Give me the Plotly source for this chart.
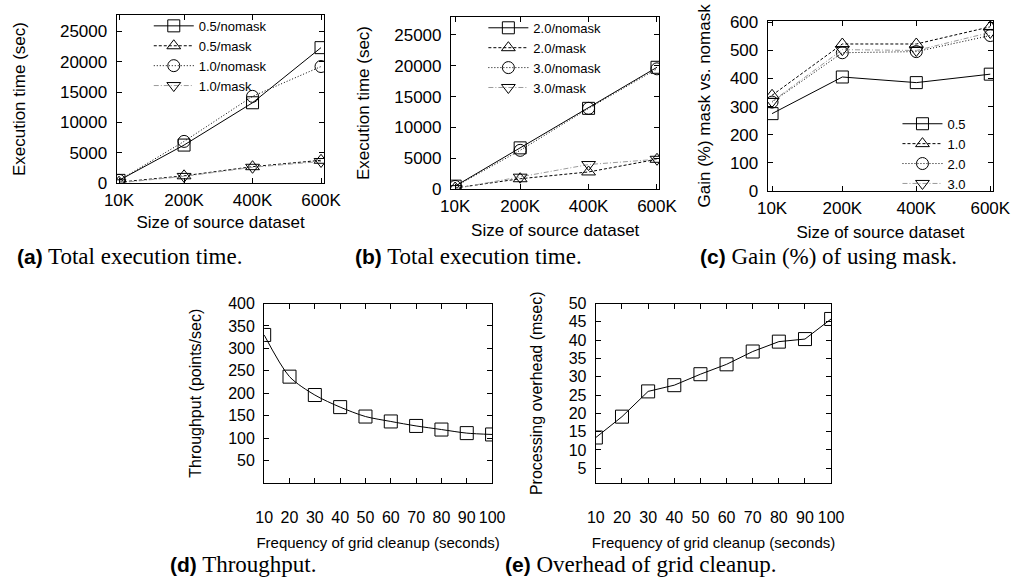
import plotly.graph_objects as go

W, H = 1027, 583

# ---------------- data ----------------
sizes_k = [10, 200, 400, 600]
size_labels = ["10K", "200K", "400K", "600K"]

a_05_nomask = [500, 6300, 13250, 22300]
a_05_mask = [200, 1250, 2750, 3800]
a_10_nomask = [500, 6900, 14300, 19200]
a_10_mask = [100, 1150, 2650, 3600]

b_20_nomask = [500, 6700, 13100, 19750]
b_20_mask = [200, 1700, 2800, 4850]
b_30_nomask = [450, 6300, 13100, 19500]
b_30_mask = [100, 1950, 4000, 4850]

gain_05 = [275, 405, 385, 415]
gain_10 = [340, 522, 522, 583]
gain_20 = [316, 491, 495, 552]
gain_30 = [318, 502, 499, 563]

cleanup_freq = [10, 20, 30, 40, 50, 60, 70, 80, 90, 100]
throughput = [330, 237, 196, 169, 148, 137, 127, 119, 111, 108]
overhead = [13.4, 19.1, 26.0, 27.7, 30.7, 33.4, 36.9, 39.6, 40.3, 45.8]

names_a = ["0.5/nomask", "0.5/mask", "1.0/nomask", "1.0/mask"]
names_b = ["2.0/nomask", "2.0/mask", "3.0/nomask", "3.0/mask"]
names_c = ["0.5", "1.0", "2.0", "3.0"]

# ---------------- styles ----------------
SANS = "Liberation Sans, Arial, sans-serif"
SERIF = "Liberation Serif, Times New Roman, serif"

styles = [
    dict(line=dict(color="black", width=1, dash="solid"), symbol="square-open", size=12),
    dict(line=dict(color="black", width=1, dash="3px,2px"), symbol="triangle-up-open", size=12),
    dict(line=dict(color="black", width=1, dash="1px,2px"), symbol="circle-open", size=12),
    dict(line=dict(color="#9a9a9a", width=1, dash="5px,2px,1px,2px"), symbol="triangle-down-open", size=12),
]


def px_dom_x(l, r):
    return [l / W, r / W]


def px_dom_y(t, b):
    return [1 - b / H, 1 - t / H]


fig = go.Figure()


def add_series(xs, ys, name, st, xa, ya, legend):
    fig.add_trace(go.Scatter(
        x=xs, y=ys, name=name, mode="lines+markers",
        line=st["line"],
        marker=dict(symbol=st["symbol"], size=st["size"], color="black",
                    line=dict(width=1, color="black")),
        xaxis=xa, yaxis=ya, legend=legend, showlegend=True,
    ))


for ys, nm, st in zip([a_05_nomask, a_05_mask, a_10_nomask, a_10_mask], names_a, styles):
    add_series(sizes_k, ys, nm, st, "x", "y", "legend")
for ys, nm, st in zip([b_20_nomask, b_20_mask, b_30_nomask, b_30_mask], names_b, styles):
    add_series(sizes_k, ys, nm, st, "x2", "y2", "legend2")
for ys, nm, st in zip([gain_05, gain_10, gain_20, gain_30], names_c, styles):
    add_series(sizes_k, ys, nm, st, "x3", "y3", "legend3")

fig.add_trace(go.Scatter(
    x=cleanup_freq, y=throughput, mode="lines+markers", showlegend=False,
    line=dict(color="black", width=1, shape="spline", smoothing=0.8),
    marker=dict(symbol="square-open", size=13, color="black", line=dict(width=1)),
    xaxis="x4", yaxis="y4"))
fig.add_trace(go.Scatter(
    x=cleanup_freq, y=overhead, mode="lines+markers", showlegend=False,
    line=dict(color="black", width=1),
    marker=dict(symbol="square-open", size=13, color="black", line=dict(width=1)),
    xaxis="x5", yaxis="y5"))


def axis(domain, rng, title, font, size, anchor, **kw):
    d = dict(
        domain=domain, range=rng, anchor=anchor,
        showline=True, linecolor="black", linewidth=1.3, mirror="ticks",
        ticks="inside", ticklen=5, tickwidth=1, tickcolor="black",
        showgrid=False, zeroline=False, tickformat="d",
        tickfont=dict(family=font, size=size, color="black"),
        title=dict(text=title, font=dict(family=font, size=size, color="black")),
    )
    d.update(kw)
    return d


row1_x_kw = dict(tickmode="array", tickvals=sizes_k, ticktext=size_labels,
                 ticklabelstandoff=1)
y_exec_ticks = [0, 5000, 10000, 15000, 20000, 25000]

lay = dict(
    width=W, height=H, margin=dict(l=0, r=0, t=0, b=0),
    paper_bgcolor="white", plot_bgcolor="white",
    xaxis=axis(px_dom_x(107, 321), [3.5, 609.6], "Size of source dataset", SANS, 17, "y",
               title_standoff=7, **row1_x_kw),
    yaxis=axis(px_dom_y(7, 181), [0, 27700], "Execution time (sec)", SANS, 17, "x",
               tickvals=y_exec_ticks, ticklabelstandoff=5, title_standoff=29),
    xaxis2=axis(px_dom_x(451.7, 666.5), [-2, 607], "Size of source dataset", SANS, 17, "y2",
                title_standoff=9, **row1_x_kw),
    yaxis2=axis(px_dom_y(9, 187), [0, 27940], "Execution time (sec)", SANS, 17, "x2",
                tickvals=y_exec_ticks, ticklabelstandoff=5, title_standoff=20),
    xaxis3=axis(px_dom_x(778.3, 1010.7), [-1.5, 607.9], "Size of source dataset", SANS, 17, "y3",
                title_standoff=9, **row1_x_kw),
    yaxis3=axis(px_dom_y(13, 189), [0, 605], "Gain (%) mask vs. nomask", SANS, 17, "x3",
                tickvals=[0, 100, 200, 300, 400, 500, 600], ticklabelstandoff=5,
                title_standoff=14),
    xaxis4=axis(px_dom_x(259, 494), [10, 100], "Frequency of grid cleanup (seconds)", SANS, 15,
                "y4", tickvals=cleanup_freq, ticklabelstandoff=20, title_standoff=12,
                tickfont=dict(family=SANS, size=16, color="black")),
    yaxis4=axis(px_dom_y(305, 490), [0, 400], "Throughput (points/sec)", SANS, 16, "x4",
                tickvals=[50, 100, 150, 200, 250, 300, 350, 400], ticklabelstandoff=5,
                title_standoff=22),
    xaxis5=axis(px_dom_x(601, 843.6), [10, 100], "Frequency of grid cleanup (seconds)", SANS, 15,
                "y5", tickvals=cleanup_freq, ticklabelstandoff=20, title_standoff=12,
                tickfont=dict(family=SANS, size=16, color="black")),
    yaxis5=axis(px_dom_y(305, 490), [1, 50], "Processing overhead (msec)", SANS, 16, "x5",
                tickvals=[5, 10, 15, 20, 25, 30, 35, 40, 45, 50], ticklabelstandoff=5,
                title_standoff=22),
    legend=dict(x=140 / W, y=1 - 3 / H, xanchor="left", yanchor="top",
                bgcolor="rgba(0,0,0,0)", font=dict(family=SANS, size=13, color="black"),
                itemwidth=40, tracegroupgap=0),
    legend2=dict(x=485 / W, y=1 - 5 / H, xanchor="left", yanchor="top",
                 bgcolor="rgba(0,0,0,0)", font=dict(family=SANS, size=13, color="black"),
                 itemwidth=40, tracegroupgap=0),
    legend3=dict(x=912 / W, y=1 - 104 / H, xanchor="left", yanchor="top",
                 bgcolor="rgba(0,0,0,0)", font=dict(family=SANS, size=13, color="black"),
                 itemwidth=40, tracegroupgap=0),
)
fig.update_layout(**lay)

captions = [
    ("(a)", "Total execution time.", 2, 256),
    ("(b)", "Total execution time.", 351, 256),
    ("(c)", "Gain (%) of using mask.", 706, 256),
    ("(d)", "Throughput.", 160, 574),
    ("(e)", "Overhead of grid cleanup.", 505, 574),
]
for lab, txt, xp, yp in captions:
    fig.add_annotation(
        x=xp / W, y=1 - yp / H, xref="paper", yref="paper", xanchor="left", yanchor="middle",
        showarrow=False,
        text=f"<span style='font-family:Liberation Sans;font-weight:bold;font-size:21px'>{lab}</span> {txt}",
        font=dict(family=SERIF, size=23, color="black"),
    )

fig.write_html(
    "out.html",
    config={"displayModeBar": False},
    post_script="document.body.style.margin='0';document.documentElement.style.overflow='hidden';",
)
